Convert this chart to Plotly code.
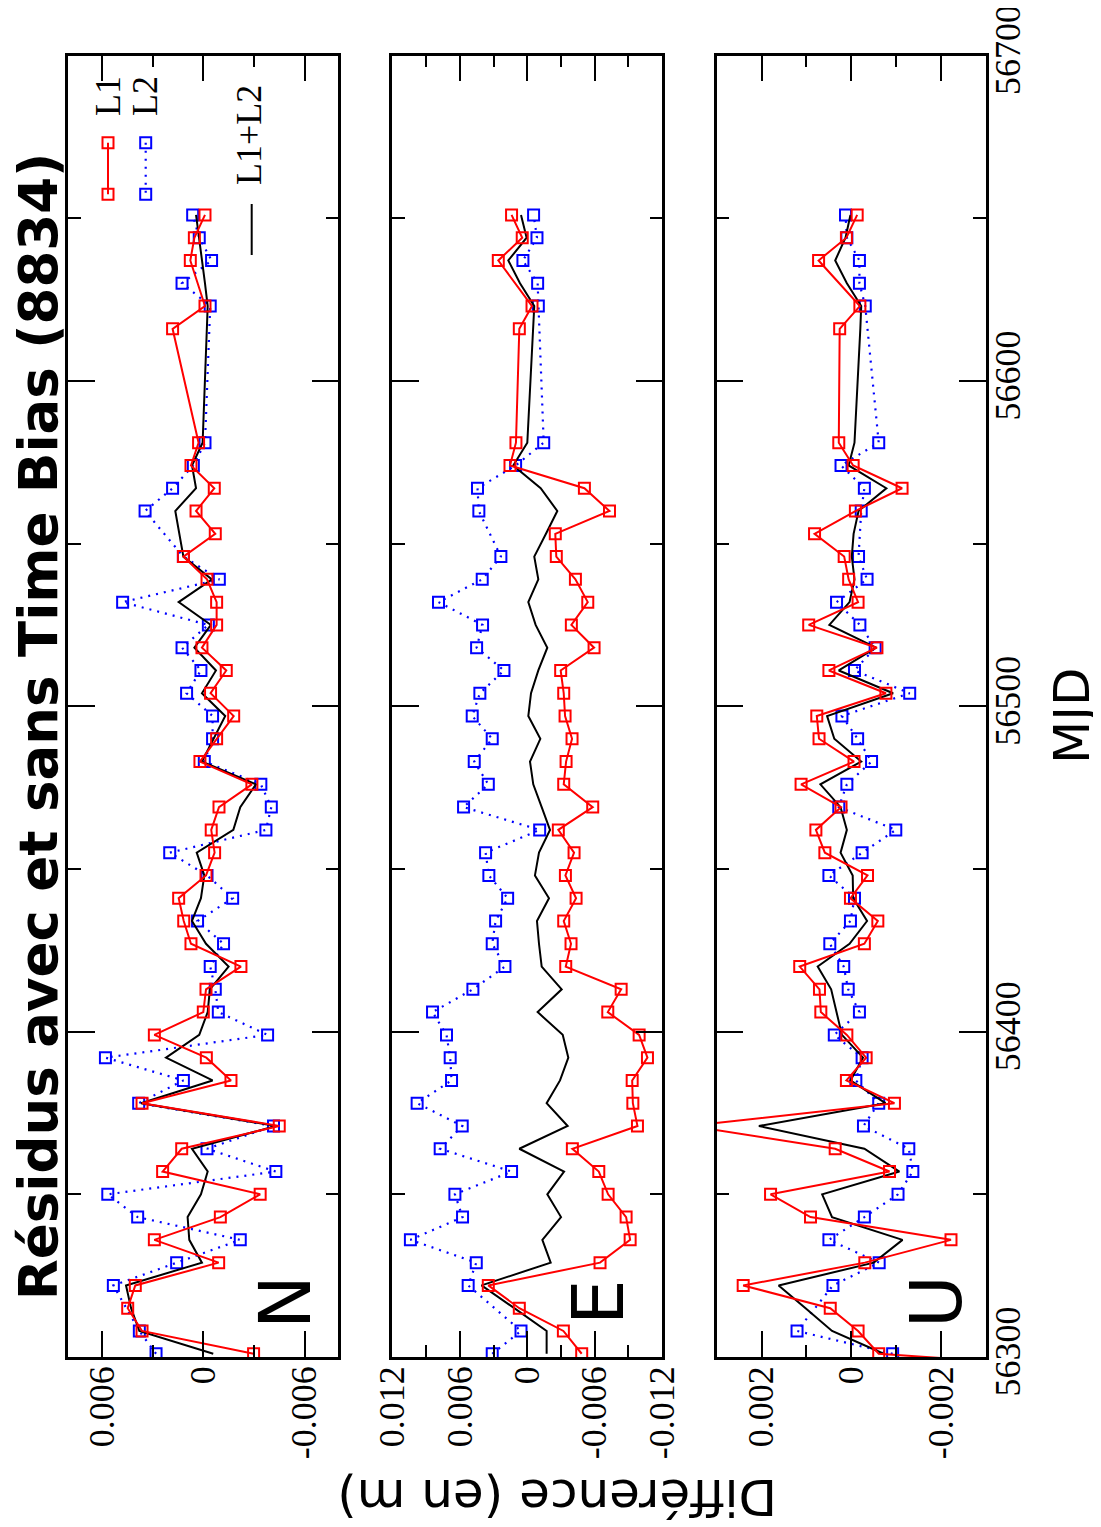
import plotly.graph_objects as go

# page is drawn with an 8px body margin; the figure fills the rest of the 1101x1527 window
OFF = 8
W, H = 1101 - OFF, 1527 - OFF

# ---------------- data (MJD dates, weekly) ----------------
mjd = [56294, 56301, 56308, 56315, 56322, 56329, 56336, 56343, 56350, 56357, 56364,
       56371, 56378, 56385, 56392, 56399, 56406, 56413, 56420, 56427, 56434,
       56441, 56448, 56455, 56462, 56469, 56476, 56483, 56490, 56497, 56504,
       56511, 56518, 56525, 56532, 56539, 56546, 56553, 56560, 56567, 56574,
       56581, 56616, 56623, 56630, 56637, 56644, 56651]

# values in mm (converted to metres below)
N_L1 = [None, -2.98, 3.63, 4.48, 4.03, -0.91, 2.90, -1.01, -3.37, 2.41, 1.28,
        -4.50, 3.63, -1.64, -0.18, 2.90, 0.00, -0.16, -2.23, 0.73, 1.16,
        1.46, -0.16, -0.67, -0.47, -0.93, -2.88, 0.20, -0.79, -1.80, -0.43,
        -1.36, 0.08, -0.79, -0.79, -0.22, 1.18, -0.71, 0.43, -0.65, 0.73,
        0.28, 1.82, -0.10, None, 0.77, 0.53, -0.10]
N_L2 = [None, 2.80, 3.79, None, 5.33, 1.58, -2.19, 3.89, 5.66, -4.30, -0.22,
        -4.16, 3.83, 1.18, 5.80, -3.81, -0.89, -0.71, -0.41, -1.20, 0.34,
        -1.74, -0.22, 1.99, -3.71, -4.03, -3.41, -0.06, -0.55, -0.55, 0.99,
        0.14, 1.26, -0.30, 4.78, -0.95, 1.18, None, 3.45, 1.82, 0.59,
        -0.10, None, -0.41, 1.26, -0.49, 0.24, 0.63]
N_LC = [None, -0.59, 3.79, 4.28, 4.58, 0.08, 0.83, 0.93, 0.14, -0.26, 0.67,
        -4.30, 3.69, -0.55, 2.21, 0.24, -0.26, -0.39, -1.50, -0.16, 0.67,
        0.14, -0.06, 0.39, -1.78, -2.19, -3.12, 0.08, -0.59, -1.30, 0.08,
        -0.75, 0.53, -0.45, 1.46, -0.51, 1.18, 1.42, 1.66, 0.43, 0.67,
        0.04, -0.22, -0.26, -0.10, 0.08, 0.28, 0.43]

E_L1 = [None, -4.84, -3.21, 0.71, 3.47, -6.47, -9.15, -8.79, -7.19, -6.36, -4.01,
        -9.80, -9.39, -9.33, -10.69, -9.95, -7.16, -8.35, -3.42, -3.89, -3.24,
        -4.34, -3.39, -4.16, -2.76, -5.82, -3.24, -3.45, -3.98, -3.36, -3.24,
        -2.97, -5.94, -3.92, -5.38, -4.28, -2.58, -2.49, -7.31, -5.08, 1.54,
        1.01, 0.71, -0.42, None, 2.58, 0.45, 1.40]
E_L2 = [None, 3.12, 0.56, None, 5.26, 4.54, 10.40, 5.76, 6.44, 1.40, 7.75,
        5.79, 9.80, 6.74, 6.86, 7.19, 8.43, 4.84, 1.99, 3.12, 2.82,
        1.75, 3.42, 3.71, -1.10, 5.67, 3.47, 4.72, 3.12, 4.90, 4.22,
        2.08, 4.51, 3.98, 7.90, 4.01, 2.35, None, 4.31, 4.43, 1.04,
        -1.46, None, -0.98, -0.92, 0.39, -0.86, -0.56]
E_LC = [None, -1.72, -1.72, 1.16, 4.07, -2.08, -1.34, -3.00, -1.78, -3.27, 0.71,
        -3.59, -1.72, -2.91, -3.65, -3.15, -0.92, -3.06, -1.28, -1.04, -0.86,
        -1.93, -0.68, -1.04, -2.02, -1.28, -0.53, -0.24, -1.16, -0.09, -0.33,
        -0.98, -1.78, -0.74, -0.09, -0.98, -0.62, -1.66, -2.67, -1.19, 1.25,
        0.00, -0.53, -0.62, 0.65, 1.69, 0.06, 0.56]

U_L1 = [-8.0, -0.61, -0.15, 0.47, 2.41, -0.30, -2.22, 0.91, 1.80, -0.85, 0.36,
        3.60, -0.96, 0.11, -0.33, 0.10, 0.68, 0.71, 1.15, -0.29, -0.59,
        0.02, -0.36, 0.59, 0.79, 0.23, 1.12, -0.06, 0.72, 0.77, -0.77,
        0.50, -0.57, 0.95, -0.15, 0.06, 0.16, 0.82, -0.09, -1.13, -0.04,
        0.28, 0.26, -0.19, None, 0.73, 0.11, -0.13]
U_L2 = [None, -0.92, 1.21, None, 0.41, -0.62, 0.50, -0.29, -1.04, -1.37, -1.28,
        -0.27, -0.61, -0.10, -0.24, 0.38, -0.18, 0.07, 0.17, 0.48, 0.02,
        -0.07, 0.50, -0.24, -0.99, 0.28, 0.10, -0.45, -0.14, 0.21, -1.30,
        -0.07, -0.53, -0.19, 0.33, -0.35, -0.16, None, -0.22, -0.29, 0.23,
        -0.61, None, -0.31, -0.18, -0.18, 0.10, 0.13]
U_LC = [None, -0.72, 0.43, 1.02, 1.62, -0.50, -1.14, 0.43, 0.65, -1.07, -0.29,
        2.06, -0.76, 0.02, -0.26, 0.21, 0.33, 0.45, 0.75, 0.04, -0.35,
        -0.04, -0.03, 0.24, 0.10, 0.24, 0.69, -0.22, 0.38, 0.54, -0.93,
        0.28, -0.55, 0.49, 0.04, -0.07, -0.01, -0.05, -0.16, -0.78, 0.06,
        -0.07, -0.20, -0.22, 0.10, 0.36, 0.13, 0.02]

panels = ["N", "E", "U"]
series = {"N": (N_L1, N_L2, N_LC), "E": (E_L1, E_L2, E_LC), "U": (U_L1, U_L2, U_LC)}

N_ticks = [0.006, 0, -0.006]
N_ticklabels = ["0.006", "0", "-0.006"]
E_ticks = [0.012, 0.006, 0, -0.006, -0.012]
E_ticklabels = ["0.012", "0.006", "0", "-0.006", "-0.012"]
U_ticks = [0.002, 0, -0.002]
U_ticklabels = ["0.002", "0", "-0.002"]
mjd_ticks = [56300, 56400, 56500, 56600, 56700]
mjd_ticklabels = ["56300", "56400", "56500", "56600", "56700"]

title = "Résidus avec et sans Time Bias (8834)"
xlabel = "Différence (en m)"
ylabel = "MJD"

# ---------------- style ----------------
RED = "#ff0000"
BLUE = "#0000ff"
SERIF = "Liberation Serif"
SANS = "DejaVu Sans"
TICKSIZE = 36


def px(v):
    """window pixel x -> paper fraction"""
    return (v - OFF) / W


def py(v):
    """window pixel y -> paper fraction"""
    return 1 - (v - OFF) / H


x_domains = [(68.3, 338.3), (392.3, 662.3), (716.7, 986.0)]
y_dom = [py(1357), py(55.5)]
x_ranges = [[0.008, -0.008], [0.01201, -0.01201], [0.003, -0.003]]
x_minor = [0.003, 0.003, 0.001]
ticks_all = [(N_ticks, N_ticklabels), (E_ticks, E_ticklabels), (U_ticks, U_ticklabels)]

fig = go.Figure()


def m(vals):
    return [None if v is None else v / 1000.0 for v in vals]


for i, p in enumerate(panels):
    xa = "x" if i == 0 else f"x{i+1}"
    ya = "y" if i == 0 else f"y{i+1}"
    l1, l2, lc = series[p]
    fig.add_trace(go.Scatter(x=m(l2), y=mjd, xaxis=xa, yaxis=ya, mode="lines+markers",
                             connectgaps=True,
                             line=dict(color=BLUE, width=2.2, dash="2px,6px"),
                             marker=dict(symbol="square-open", size=11, color=BLUE,
                                         line=dict(width=2, color=BLUE)),
                             showlegend=False))
    fig.add_trace(go.Scatter(x=m(lc), y=mjd, xaxis=xa, yaxis=ya, mode="lines",
                             connectgaps=True,
                             line=dict(color="black", width=2),
                             showlegend=False))
    fig.add_trace(go.Scatter(x=m(l1), y=mjd, xaxis=xa, yaxis=ya, mode="lines+markers",
                             connectgaps=True,
                             line=dict(color=RED, width=2),
                             marker=dict(symbol="square-open", size=11, color=RED,
                                         line=dict(width=2, color=RED)),
                             showlegend=False))

axis_common = dict(showgrid=False, zeroline=False, showline=True, linewidth=2.5,
                   linecolor="black", mirror="ticks", ticks="inside",
                   tickwidth=2, tickcolor="black", automargin=False,
                   ticklabeloverflow="allow")

layout = dict(width=W, height=H, margin=dict(l=0, r=0, t=0, b=0, pad=0, autoexpand=False),
              paper_bgcolor="white", plot_bgcolor="rgba(0,0,0,0)", showlegend=False)

for i in range(3):
    xk = "xaxis" if i == 0 else f"xaxis{i+1}"
    yk = "yaxis" if i == 0 else f"yaxis{i+1}"
    tv, tt = ticks_all[i]
    layout[xk] = dict(axis_common, domain=[px(x_domains[i][0]), px(x_domains[i][1])],
                      anchor="y" if i == 0 else f"y{i+1}",
                      range=x_ranges[i], tickvals=tv, ticktext=tt, ticklen=26,
                      tickangle=-90, ticklabelstandoff=-8,
                      tickfont=dict(family=SERIF, size=TICKSIZE, color="black"),
                      minor=dict(dtick=x_minor[i], tick0=0, ticks="inside", ticklen=12,
                                 tickwidth=2, tickcolor="black", showgrid=False))
    layout[yk] = dict(axis_common, domain=y_dom,
                      anchor="x" if i == 0 else f"x{i+1}",
                      range=[56300, 56700], tickvals=mjd_ticks, ticktext=mjd_ticklabels,
                      ticklen=27, tickangle=-90,
                      side="right" if i == 2 else "left",
                      showticklabels=(i == 2), ticklabelstandoff=-12,
                      tickfont=dict(family=SERIF, size=TICKSIZE, color="black"),
                      minor=dict(dtick=50, tick0=56300, ticks="inside", ticklen=13,
                                 tickwidth=2, tickcolor="black", showgrid=False))

# hidden full-page axis in window-pixel space, used only for the legend glyphs
layout["xaxis4"] = dict(domain=[0, 1], range=[OFF, OFF + W], visible=False, anchor="y4",
                        automargin=False, fixedrange=True)
layout["yaxis4"] = dict(domain=[0, 1], range=[OFF + H, OFF], visible=False, anchor="x4",
                        automargin=False, fixedrange=True)
fig.update_layout(**layout)

fig.add_trace(go.Scatter(x=[108, 108], y=[142.7, 194.3], xaxis="x4", yaxis="y4",
                         mode="lines+markers", line=dict(color=RED, width=2),
                         marker=dict(symbol="square-open", size=11, color=RED,
                                     line=dict(width=2, color=RED)), showlegend=False))
fig.add_trace(go.Scatter(x=[145.7, 145.7], y=[142.7, 194.3], xaxis="x4", yaxis="y4",
                         mode="lines+markers", line=dict(color=BLUE, width=2.2, dash="2px,6px"),
                         marker=dict(symbol="square-open", size=11, color=BLUE,
                                     line=dict(width=2, color=BLUE)), showlegend=False))
fig.add_trace(go.Scatter(x=[251.7, 251.7], y=[204, 255], xaxis="x4", yaxis="y4",
                         mode="lines", line=dict(color="black", width=2), showlegend=False))

ann = []
ann.append(dict(text=f"<b>{title}</b>", x=px(38), y=py(727), xref="paper", yref="paper",
                showarrow=False, textangle=-90, xanchor="center", yanchor="middle",
                font=dict(family=SANS, size=53, color="black")))
ann.append(dict(text=xlabel, x=px(557), y=py(1497), xref="paper", yref="paper",
                showarrow=False, textangle=180, xanchor="center", yanchor="middle",
                font=dict(family=SANS, size=50, color="black")))
ann.append(dict(text=ylabel, x=px(1072), y=py(716), xref="paper", yref="paper",
                showarrow=False, textangle=-90, xanchor="center", yanchor="middle",
                font=dict(family=SANS, size=50, color="black")))
for lab, cx in zip(panels, [285, 598, 936]):
    ann.append(dict(text=lab, x=px(cx), y=py(1302), xref="paper", yref="paper",
                    showarrow=False, textangle=-90, xanchor="center", yanchor="middle",
                    font=dict(family=SANS, size=72, color="black")))
for lab, cx, cy in [("L1", 108, 96), ("L2", 145, 96), ("L1+L2", 249, 135)]:
    ann.append(dict(text=lab, x=px(cx), y=py(cy), xref="paper", yref="paper",
                    showarrow=False, textangle=-90, xanchor="center", yanchor="middle",
                    font=dict(family=SERIF, size=36, color="black")))
fig.update_layout(annotations=ann)

fig.write_html("out.html")
